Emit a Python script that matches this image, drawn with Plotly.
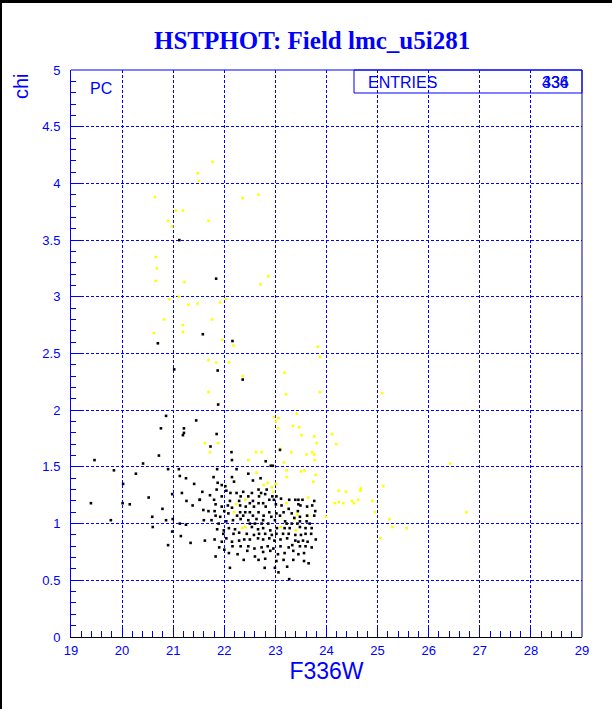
import plotly.graph_objects as go

# ---- data ----
black_x = [21.12, 21.84, 21.58, 20.70, 22.16, 21.02, 21.87, 22.36,
           21.88, 20.86, 21.45, 20.76, 21.21, 21.21, 21.19, 21.85, 21.73, 20.72, 19.46, 20.41,
           19.84, 20.90, 21.11, 20.27, 21.13, 21.25, 21.41, 20.02, 20.98, 21.17, 20.52, 21.26,
           21.52, 21.80, 19.39, 20.01, 20.15, 21.38, 20.79, 20.59, 19.78, 20.86, 20.99, 21.13,
           20.60, 21.25, 20.98, 21.15, 21.34, 20.90,
           23.09, 22.95,
           22.14, 22.15, 22.81, 22.91, 22.24, 21.86, 21.79, 22.15, 22.47, 22.71, 22.56, 21.87,
           21.95, 22.02, 22.19, 21.85, 22.04, 22.67, 22.72, 22.37, 22.54, 22.83, 22.94, 23.02,
           22.32, 22.24, 22.12, 21.57, 21.72, 21.95, 22.47, 22.68, 22.80, 23.11, 23.27, 23.39,
           23.45, 23.53, 23.76, 21.52, 22.11, 22.29, 22.50, 22.56, 22.67, 22.76, 22.88, 22.97,
           23.01, 21.83, 21.95, 22.07, 22.15, 22.31, 22.42, 22.58, 22.81, 23.12, 23.45, 23.49,
           23.72, 23.78, 23.62, 23.26, 23.44, 21.59, 21.69, 21.81, 22.00, 22.08, 22.31, 22.41,
           22.50, 22.67, 22.88, 23.02, 23.16, 23.32, 23.48, 23.62, 23.76, 21.83, 21.92, 22.25,
           22.37, 22.56, 22.77, 22.92, 23.09, 23.37, 21.60, 21.75, 22.04, 22.17, 22.32, 22.47,
           22.63, 22.76, 22.99, 23.19, 23.48, 23.61, 21.89, 22.50, 22.60, 22.73, 22.86, 23.22,
           23.32, 23.43, 23.67, 21.86, 21.99, 22.09, 22.21, 22.54, 22.66, 22.76, 22.90, 23.03,
           23.18, 23.28, 23.48, 23.59, 23.71, 21.98, 22.18, 22.29, 22.44, 22.58, 22.68, 22.80,
           22.93, 23.02, 23.15, 23.26, 23.39, 23.50, 23.59, 23.70, 21.62, 21.81, 21.95, 22.04,
           22.15, 22.29, 22.39, 22.50, 22.66, 22.76, 22.88, 22.98, 23.10, 23.23, 23.39, 23.45,
           23.54, 23.63, 23.79, 21.90, 22.00, 22.16, 22.32, 22.47, 22.59, 22.73, 22.85, 22.96,
           23.10, 23.26, 23.33, 23.48, 23.59, 23.71, 21.83, 22.09, 22.26, 22.45, 22.60, 22.76,
           22.90, 23.05, 23.18, 23.35, 23.45, 23.56, 22.38, 22.67, 22.80, 23.02, 23.16, 23.35,
           23.56, 23.65, 22.11, 22.79, 22.99, 23.23, 23.06, 23.27]
black_y = [3.50, 3.16, 2.67, 2.59, 2.61, 2.36, 2.35, 2.27,
           2.05, 1.95, 1.91, 1.84, 1.84, 1.80, 1.78, 1.79, 1.68, 1.60, 1.56, 1.53,
           1.47, 1.48, 1.48, 1.44, 1.42, 1.40, 1.35, 1.35, 1.26, 1.27, 1.23, 1.20,
           1.21, 1.21, 1.18, 1.18, 1.17, 1.16, 1.13, 1.06, 1.03, 1.03, 1.04, 1.00,
           0.97, 0.99, 0.93, 0.89, 0.83, 0.81,
           1.65, 1.51,
           1.63, 1.56, 1.55, 1.51, 1.48, 1.48, 1.41, 1.41, 1.44, 1.40, 1.38, 1.36,
           1.34, 1.33, 1.37, 1.30, 1.29, 1.30, 1.27, 1.28, 1.27, 1.30, 1.24, 1.24,
           1.24, 1.27, 1.27, 1.28, 1.25, 1.24, 1.24, 1.24, 1.26, 1.22, 1.21, 1.21,
           1.21, 1.21, 1.20, 1.21, 1.20, 1.20, 1.18, 1.20, 1.18, 1.18, 1.21, 1.21,
           1.17, 1.17, 1.15, 1.16, 1.14, 1.16, 1.15, 1.15, 1.15, 1.16, 1.17, 1.16,
           1.16, 1.11, 1.15, 1.13, 1.11, 1.12, 1.11, 1.11, 1.11, 1.09, 1.10, 1.10,
           1.10, 1.10, 1.10, 1.09, 1.10, 1.09, 1.06, 1.07, 1.07, 1.07, 1.06, 1.07,
           1.07, 1.07, 1.07, 1.06, 1.07, 1.05, 1.03, 1.03, 1.02, 1.03, 1.04, 1.03,
           1.04, 1.03, 1.03, 1.02, 1.02, 1.02, 1.00, 1.00, 1.00, 1.00, 1.00, 1.00,
           1.00, 1.00, 1.00, 0.95, 0.94, 0.96, 0.95, 0.97, 0.95, 0.96, 0.94, 0.96,
           0.96, 0.96, 0.97, 0.96, 0.96, 0.91, 0.91, 0.92, 0.91, 0.90, 0.91, 0.91,
           0.90, 0.91, 0.91, 0.91, 0.90, 0.90, 0.91, 0.91, 0.85, 0.86, 0.84, 0.87,
           0.84, 0.85, 0.86, 0.86, 0.87, 0.86, 0.87, 0.85, 0.86, 0.87, 0.85, 0.84,
           0.85, 0.84, 0.86, 0.79, 0.77, 0.80, 0.80, 0.80, 0.78, 0.79, 0.80, 0.78,
           0.80, 0.79, 0.81, 0.80, 0.80, 0.79, 0.71, 0.74, 0.73, 0.76, 0.71, 0.75,
           0.76, 0.73, 0.74, 0.76, 0.73, 0.74, 0.68, 0.68, 0.69, 0.67, 0.68, 0.68,
           0.67, 0.65, 0.61, 0.61, 0.61, 0.62, 0.57, 0.51]

yellow_x = [21.77, 21.48, 21.50, 20.64, 22.36, 22.67, 21.05, 21.19, 20.90, 21.69, 20.98,
            20.66, 20.68, 20.66, 21.22, 22.86, 22.71, 21.11, 20.92, 21.30, 21.48, 21.92,
            22.03, 20.82, 21.76, 21.19, 21.19, 20.62, 21.96, 22.18, 23.83, 23.87, 21.69,
            21.84, 22.09, 23.18, 22.36,
            21.69, 21.62, 21.88, 21.72,
            23.21, 23.87, 25.09, 23.42, 22.97, 23.06, 23.01, 23.34, 23.46, 23.05, 23.51,
            23.76, 24.11, 23.81, 24.19, 23.09, 23.31, 23.61, 23.72, 23.76, 23.77, 23.17,
            23.22, 23.50, 23.57, 23.79, 23.22, 23.74, 23.01, 24.24, 24.38, 24.67, 24.66,
            25.11, 23.64, 24.16, 24.24, 24.33, 24.50, 24.62, 24.54, 24.90, 23.22, 22.96,
            22.93, 24.95, 25.23, 23.99, 25.29, 25.57, 25.05, 23.42, 23.10, 23.38, 23.40,
            23.64,
            26.42, 26.74,
            22.62, 22.73, 22.47, 22.63, 22.85, 22.77, 23.01, 22.41, 22.23, 22.19, 22.35, 22.41]
yellow_y = [4.19, 4.09, 4.02, 3.88, 3.87, 3.90, 3.76, 3.76, 3.67, 3.67, 3.62,
            3.35, 3.25, 3.14, 3.13, 3.18, 3.11, 3.00, 2.98, 2.93, 2.94, 2.95,
            2.98, 2.80, 2.80, 2.75, 2.69, 2.68, 2.62, 2.57, 2.56, 2.47, 2.44,
            2.42, 2.42, 2.33, 2.30,
            2.16, 1.71, 1.71, 1.63,
            2.14, 2.16, 2.15, 1.97, 1.94, 1.93, 1.90, 1.86, 1.85, 1.84, 1.78,
            1.77, 1.79, 1.71, 1.70, 1.66, 1.63, 1.61, 1.63, 1.61, 1.56, 1.54,
            1.47, 1.46, 1.47, 1.43, 1.41, 1.37, 1.35, 1.29, 1.28, 1.31, 1.29,
            1.33, 1.23, 1.18, 1.19, 1.18, 1.20, 1.21, 1.18, 1.20, 1.18, 1.28,
            1.32, 1.10, 1.04, 1.06, 0.97, 0.96, 0.87, 1.08, 0.97, 1.04, 0.94,
            1.07,
            1.53, 1.10,
            1.63, 1.63, 1.56, 1.45, 1.36, 1.34, 1.35, 1.21, 1.17, 1.10, 0.96, 0.97]

x_range = [19, 29]
y_range = [0, 5]
title_text = "HSTPHOT: Field lmc_u5i281"
x_title = "F336W"
y_title = "chi"
stat_label = "ENTRIES"
stat_values = ["434", "336"]
corner_label = "PC"

BLUE = "#0000ff"

fig = go.Figure()
fig.add_trace(go.Scatter(x=yellow_x, y=yellow_y, mode="markers",
                         marker=dict(symbol="square", size=2.6, color="#ffff00",
                                     line=dict(width=0)),
                         hoverinfo="skip", showlegend=False))
fig.add_trace(go.Scatter(x=black_x, y=black_y, mode="markers",
                         marker=dict(symbol="square", size=2.6, color="#000000",
                                     line=dict(width=0)),
                         hoverinfo="skip", showlegend=False))

tickfont = dict(family="Liberation Sans, Arial, sans-serif", size=13, color=BLUE)

fig.update_layout(
    width=612, height=709,
    margin=dict(l=71, r=30, t=70, b=72, pad=0),
    paper_bgcolor="white", plot_bgcolor="white",
    showlegend=False,
    title=dict(text="<b>" + title_text + "</b>", x=0.51, xanchor="center",
               y=1 - 40 / 709, yanchor="middle", yref="container",
               font=dict(family="Liberation Serif, Times New Roman, serif", size=25, color=BLUE)),
    xaxis=dict(range=x_range, dtick=1, tick0=19, showgrid=True, gridcolor=BLUE,
               gridwidth=1, griddash="3px,2px", zeroline=False,
               showline=True, linecolor="black", linewidth=1, mirror=False,
               ticks="inside", ticklen=10, tickcolor=BLUE, tickwidth=1,
               tickfont=tickfont, ticklabelstandoff=1,
               minor=dict(dtick=0.2, tick0=19, ticks="inside", ticklen=6,
                          tickcolor=BLUE, showgrid=False),
               title=dict(text=x_title, standoff=0,
                          font=dict(family="Liberation Sans, Arial, sans-serif", size=23, color=BLUE))),
    yaxis=dict(range=y_range, dtick=0.5, tick0=0, showgrid=True, gridcolor=BLUE,
               gridwidth=1, griddash="3px,2px", zeroline=False,
               showline=True, linecolor=BLUE, linewidth=1, mirror=False,
               ticks="inside", ticklen=10, tickcolor=BLUE, tickwidth=1,
               tickfont=tickfont, ticklabelstandoff=7,
               minor=dict(dtick=0.1, tick0=0, ticks="inside", ticklen=5,
                          tickcolor=BLUE, showgrid=False)),
)

# frame top/right and outer window border
shapes = [
    dict(type="line", xref="paper", yref="paper", x0=0, x1=1, y0=1, y1=1,
         line=dict(color=BLUE, width=1)),
    dict(type="line", xref="paper", yref="paper", x0=1, x1=1, y0=0, y1=1,
         line=dict(color="#000080", width=1)),
    dict(type="rect", xref="paper", yref="paper", x0=(354 - 71) / 511, x1=1,
         y0=(637 - 93) / 567, y1=1, line=dict(color=BLUE, width=1), fillcolor="rgba(0,0,0,0)"),
    dict(type="line", xref="paper", yref="paper", x0=-70 / 511, x1=-70 / 511,
         y0=-72 / 567, y1=637 / 567, line=dict(color="black", width=2)),
    dict(type="line", xref="paper", yref="paper", x0=-71 / 511, x1=541 / 511,
         y0=635.5 / 567, y1=635.5 / 567, line=dict(color="black", width=3)),
]
fig.update_layout(shapes=shapes)

ann_font = dict(family="Liberation Sans, Arial, sans-serif", size=16, color=BLUE)
annotations = [
    dict(text=y_title, xref="paper", yref="paper", x=(21 - 71) / 511, y=(637 - 86) / 567,
         xanchor="center", yanchor="middle", textangle=-90, showarrow=False,
         font=dict(family="Liberation Sans, Arial, sans-serif", size=20, color=BLUE)),
    dict(text=corner_label, xref="paper", yref="paper", x=(88 - 71) / 511, y=(637 - 88) / 567,
         xanchor="left", yanchor="middle", showarrow=False, font=ann_font),
    dict(text=stat_label, xref="paper", yref="paper", x=(366 - 71) / 511, y=(637 - 82) / 567,
         xanchor="left", yanchor="middle", showarrow=False, font=ann_font),
]
for v in stat_values:
    annotations.append(dict(text=v, xref="paper", yref="paper", x=(571 - 71) / 511,
                            y=(637 - 82) / 567, xanchor="right", yanchor="middle",
                            showarrow=False, font=ann_font))
fig.update_layout(annotations=annotations)

fig.write_html("out.html", config={"displayModeBar": False})

# remove the default body margin so the figure sits at the window's top-left corner
with open("out.html", "r", encoding="utf-8") as f:
    html = f.read()
html = html.replace("<body>", '<body style="margin:0;padding:0">', 1)
with open("out.html", "w", encoding="utf-8") as f:
    f.write(html)
